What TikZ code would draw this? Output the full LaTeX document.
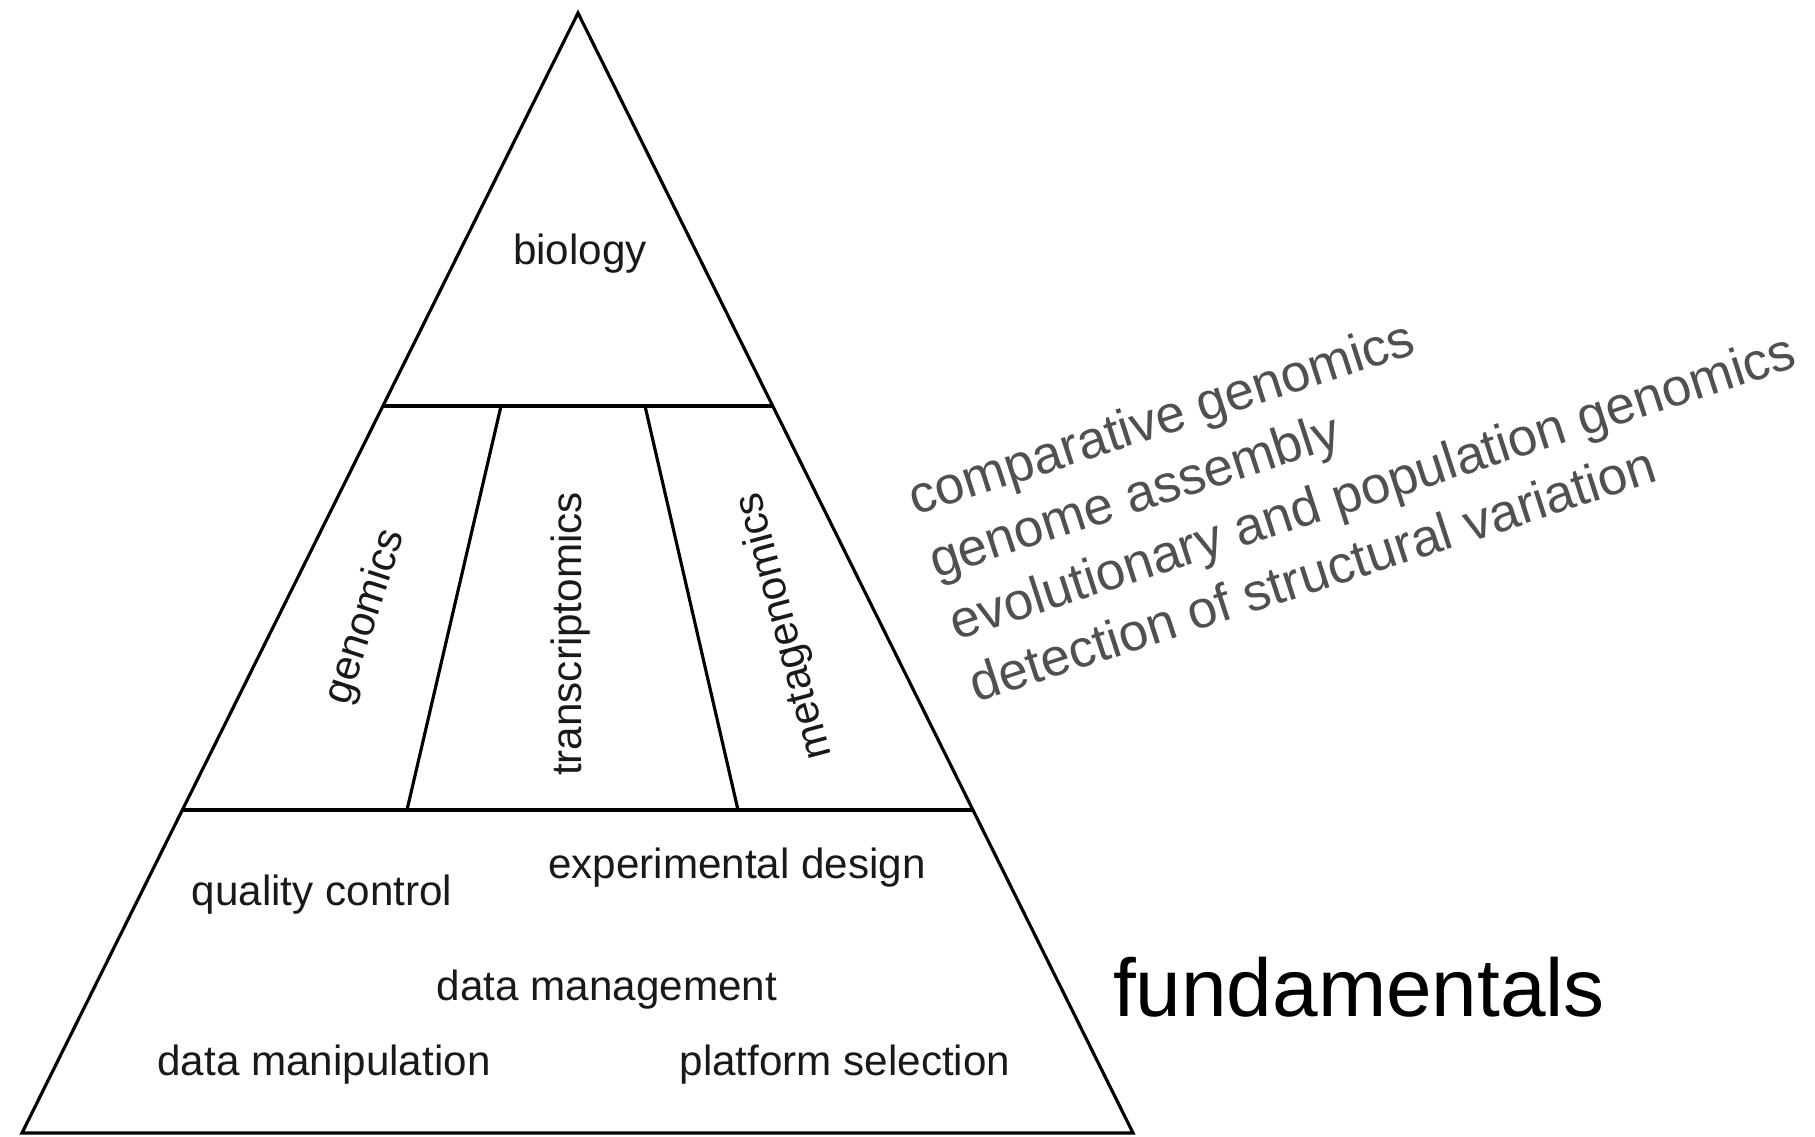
\documentclass[tikz,border=0pt]{standalone}
\usepackage{fontspec}
\setmainfont{Liberation Sans}
\definecolor{listgray}{HTML}{505050}

\begin{document}
\begin{tikzpicture}[x=0.01cm, y=-0.01cm, line width=0.9pt, line join=miter,
  field/.style={font=\fontsize{12}{14}\selectfont, inner sep=0pt, text=black!90},
  topic/.style={font=\fontsize{15}{18.6}\selectfont, inner sep=0pt, text=listgray, align=left}]
\useasboundingbox (0,0) rectangle (1815,1136);

% corners of the pyramid
\coordinate (apex) at (578,13);
\coordinate (bl) at (22,1133);
\coordinate (br) at (1133,1133);
% the two levels
\coordinate (tl) at (382,406);
\coordinate (tr) at (773,406);
\coordinate (ml) at (182,810);
\coordinate (mr) at (973,810);
% dividers of the middle level
\coordinate (d1t) at (501,406);
\coordinate (d1b) at (407,810);
\coordinate (d2t) at (645,406);
\coordinate (d2b) at (738,810);

\draw (apex) -- (bl) -- (br) -- cycle;
\draw (tl) -- (tr);
\draw (ml) -- (mr);
\draw (d1t) -- (d1b);
\draw (d2t) -- (d2b);

\node[field] (bio) at (580,254) {biology};

\node[field, rotate=72] (gen) at (366,617) {genomics};
\node[field, rotate=90] (trans) at (571,634) {transcriptomics};
\node[field, rotate=105] (meta) at (785,626) {metagenomics};

\node[field] (qc) at (322,895) {quality control};
\node[field] (exp) at (737,868) {experimental design};
\node[field] (dman) at (607,990) {data management};
\node[field] (dmp) at (324,1065) {data manipulation};
\node[field] (plat) at (845,1065) {platform selection};

% base of the last line
\node[topic, rotate=18, anchor=base west] (list) at (975,703) {comparative genomics\\
genome assembly\\
evolutionary and population genomics\\
detection of structural variation};

\node[font=\fontsize{23.3}{28}\selectfont, inner sep=0pt] (fund) at (1359,987) {fundamentals};
\end{tikzpicture}
\end{document}
